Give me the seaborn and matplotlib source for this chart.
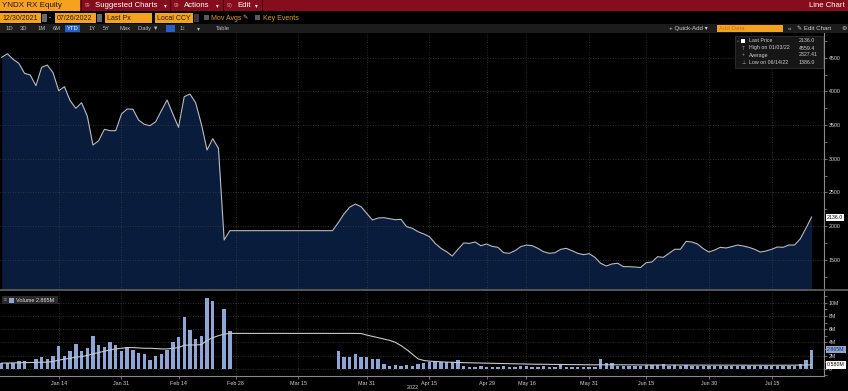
import numpy as np
import pandas as pd
import seaborn as sns
import matplotlib.pyplot as plt
from matplotlib.patches import Rectangle
from matplotlib.lines import Line2D
from matplotlib.ticker import MultipleLocator

# trading days on the chart: weekdays without the exchange holidays
holidays = ['2021-12-31', '2022-05-02', '2022-05-03', '2022-05-09', '2022-05-10', '2022-06-13']
dates = pd.bdate_range('2021-12-30', '2022-07-26').drop(pd.to_datetime(holidays))

# last price, RUB
price = [4506, 4559, 4476, 4417, 4268, 4243, 4085, 4357, 4391, 4277,
         4010, 4070, 3862, 3749, 3832, 3635, 3204, 3268, 3437, 3417,
         3417, 3665, 3739, 3735, 3575, 3512, 3491, 3550, 3714, 3872,
         3665, 3467, 3921, 3961, 3832, 3516, 3130, 3298, 3155, 1795,
         1933,
         1933, 1933, 1933, 1933, 1933, 1933, 1933, 1933, 1933,
         1933, 1933, 1933, 1933, 1933, 1933, 1933, 1933, 1933,
         2051, 2180, 2280, 2329, 2289, 2191, 2092, 2121, 2126, 2111, 2096, 2101,
         1992, 1968, 1918, 1884, 1844, 1745, 1671, 1621, 1557, 1657,
         1750, 1745, 1765, 1710, 1735, 1700, 1686, 1606, 1597, 1636,
         1696, 1720, 1710, 1671, 1621, 1597, 1606, 1656, 1671, 1636,
         1597, 1577, 1592, 1538, 1449, 1409, 1439, 1449, 1399, 1399,
         1394, 1386, 1458, 1468, 1547, 1537, 1597, 1657, 1657, 1775,
         1765, 1735, 1666, 1616, 1646, 1686, 1676, 1696, 1720, 1705,
         1686, 1657, 1616, 1631, 1657, 1691, 1686, 1720, 1720, 1810,
         1968, 2136]

nan = np.nan
# volume, millions of shares
volume = [0.81, 0.9, 0.9, 1.1, 1.2, nan, 1.46, 1.72, 1.5, 2.0,
          3.38, 1.92, 2.73, 3.69, 2.68, 3.08, 4.9, 3.54, 3.28, 4.04,
          3.54, 2.68, 3.33, 2.78, 2.42, 2.17, 1.26, 1.97, 2.22, 2.88,
          3.99, 4.8, 7.88, 5.9, 4.55, 5.0, 10.76, 10.3, nan, 9.09,
          5.76,
          nan, nan, nan, nan, nan, nan, nan, nan, nan,
          nan, nan, nan, nan, nan, nan, nan, nan, nan,
          2.68, 1.82, 1.77, 2.17, 1.82, 1.72, 1.41, 1.41, 0.66, 0.45, 0.5, 0.35, 0.5,
          0.4, 0.7, 0.9, 1.0, 1.2, 0.96, 1.0, 0.96, 1.26,
          0.4, 0.3, 0.3, 0.35, 0.3, 0.3, 0.3, 0.35, 0.3, 0.25,
          0.4, 0.4, 0.3, 0.3, 0.35, 0.3, 0.3, 0.5, 0.3, 0.3,
          0.25, 0.25, 0.3, 0.3, 1.4, 0.9, 0.8, 0.45, 0.4, 0.4,
          0.4, 0.45, 0.5, 0.5, 0.55, 0.65, 0.4, 0.5, 0.35, 0.6,
          0.45, 0.4, 0.45, 0.4, 0.4, 0.35, 0.4, 0.4, 0.4, 0.4,
          0.35, 0.4, 0.4, 0.4, 0.35, 0.4, 0.45, 0.45, 0.4, 0.7,
          1.3, 2.865]

# volume moving average, millions
vol_ma = [0.85, 0.86, 0.88, 0.9, 0.92, 0.93, 0.95, 0.97, 1.0, 1.1,
          1.3, 1.45, 1.6, 1.75, 1.85, 2.0, 2.25, 2.45, 2.65, 2.85,
          3.0, 3.1, 3.2, 3.2, 3.15, 3.1, 3.1, 3.05, 3.0, 3.0,
          3.1, 3.2, 3.55, 3.6, 3.6, 3.65, 4.3, 4.7, 5.0, 5.25,
          5.35,
          5.35, 5.35, 5.35, 5.35, 5.35, 5.35, 5.35, 5.35, 5.35, 5.35, 5.35,
          5.35, 5.35, 5.35, 5.35, 5.35, 5.35, 5.35, 5.35, 5.35, 5.35, 5.35,
          5.33, 5.1, 4.9, 4.7, 4.5, 4.3, 4.0, 3.5, 2.9, 2.2,
          1.5, 1.25, 1.15, 1.1, 1.05, 1.0, 0.97, 0.95, 0.92, 0.9,
          0.88, 0.86, 0.84, 0.82, 0.8, 0.78, 0.76, 0.74, 0.72, 0.7,
          0.69, 0.68, 0.67, 0.66, 0.65, 0.64, 0.63, 0.62, 0.61, 0.6,
          0.6, 0.6, 0.6, 0.6, 0.6, 0.59, 0.59, 0.59, 0.58, 0.58,
          0.57, 0.57, 0.57, 0.56, 0.56, 0.56, 0.56, 0.55, 0.55, 0.55,
          0.55, 0.55, 0.54, 0.54, 0.54, 0.54, 0.54, 0.54, 0.53, 0.53,
          0.53, 0.53, 0.53, 0.53, 0.53, 0.53, 0.54, 0.55, 0.56, 0.58]

tick_dates = ['2022-01-14', '2022-01-31', '2022-02-14', '2022-02-28', '2022-03-15', '2022-03-31',
              '2022-04-15', '2022-04-29', '2022-05-16', '2022-05-31', '2022-06-15', '2022-06-30', '2022-07-15']
tick_labels = ['Jan 14', 'Jan 31', 'Feb 14', 'Feb 28', 'Mar 15', 'Mar 31',
               'Apr 15', 'Apr 29', 'May 16', 'May 31', 'Jun 15', 'Jun 30', 'Jul 15']

price_ticks = [1500, 2000, 2500, 3000, 3500, 4000, 4500]
vol_ticks = [0, 2, 4, 6, 8, 10]
vol_tick_labels = ['0', '2M', '4M', '6M', '8M', '10M']

df = pd.DataFrame({'pos': np.arange(len(dates)), 'price': price,
                   'volume': volume, 'vol_ma': vol_ma}, index=dates)
tick_pos = [df.index.get_loc(pd.Timestamp(d)) for d in tick_dates]

plt.rcParams['font.family'] = ['Liberation Sans', 'DejaVu Sans']

W, H = 848, 391
fig = plt.figure(figsize=(W / 100, H / 100), dpi=100, facecolor='black')


def fx(x):
    return x / W


def fy(y):
    return 1 - y / H


def rect(x, y, w, h, fc, ec='none', lw=0, z=5):
    fig.patches.append(Rectangle((fx(x), fy(y + h)), w / W, h / H, transform=fig.transFigure,
                                 facecolor=fc, edgecolor=ec, linewidth=lw, zorder=z))


def txt(x, y, s, c='white', size=5.5, ha='left', **kw):
    fig.text(fx(x), fy(y), s, color=c, fontsize=size, ha=ha, va='center', zorder=6, **kw)


# ---- toolbar rows ----
orange = '#f7a21c'
rect(0, 0, W, 11, '#860d1b')
rect(0, 0, 80, 11, orange)
txt(2, 5.8, 'YNDX RX Equity', c='#1a1a1a', size=5.8)
for xs in [81, 170, 223, 262]:
    rect(xs, 0, 1.2, 11, '#3a0208')
txt(85, 5.5, '99', c='#d9a0a6', size=3.5)
txt(95, 5.8, 'Suggested Charts', size=5.6)
txt(164, 5.8, '▾', size=4)
txt(174, 5.5, '99', c='#d9a0a6', size=3.5)
txt(184, 5.8, 'Actions', size=5.6)
txt(216, 5.8, '▾', size=4)
txt(227, 5.5, '9/)', c='#d9a0a6', size=3.5)
txt(237, 5.8, 'Edit', size=5.6)
txt(255, 5.8, '▾', size=4)
txt(845, 5.8, 'Line Chart', size=5.6, ha='right')

for x0, w0, s in [(0, 41, '12/30/2021'), (55, 41, '07/26/2022'), (105, 47, 'Last Px'), (155, 38, 'Local CCY')]:
    rect(x0, 13, w0, 10, orange)
    txt(x0 + 2, 18.3, s, c='#1a1a1a', size=5)
rect(42, 14, 5, 8, '#6a6a6a')
rect(97, 14, 5, 8, '#6a6a6a')
txt(49, 18, '-', c='#cccccc', size=5)
rect(194, 14, 5, 8, '#3a3a3a')
rect(204, 15, 5, 5, '#5a5a5a')
txt(211, 18.3, 'Mov Avgs', c='#e39a2e', size=5)
txt(242, 18.3, '✎', c='#bbbbbb', size=4.5)
rect(255, 15, 5, 5, '#5a5a5a')
txt(263, 18.3, 'Key Events', c='#e39a2e', size=5)

rect(0, 24, W, 9, '#1c1c1c')
for x0, s in [(6, '1D'), (20, '3D'), (38, '1M'), (53, '6M'), (89, '1Y'), (103, '5Y'), (119, 'Max'),
              (138, 'Daily ▼'), (180, '1↕'), (197, '▾')]:
    txt(x0, 28.5, s, c='#bdbdbd', size=4.2)
rect(65, 25, 15, 7, '#2460c8')
txt(72.5, 28.5, 'YTD', c='white', size=4.2, ha='center')
rect(166, 25, 9, 7, '#2460c8')
txt(223, 28.5, 'Table', c='#bdbdbd', size=4.2, ha='center')
txt(669, 28.5, '+ Quick-Add ▾', c='#d0d0d0', size=4.4)
rect(717, 25, 66, 7, orange)
txt(719, 28.5, 'Add Data', c='#c4761a', size=4.4)
txt(788, 28.5, '«', c='#d0d0d0', size=4.4)
txt(797, 28.5, '✎ Edit Chart', c='#d0d0d0', size=4.4)
txt(841, 28.5, '⚙', c='#d0d0d0', size=4.4)

# ---- price panel ----
ymin, ymax = 1052.7, 4866.6
xmin, xmax = -0.3, 144.17
ax = fig.add_axes([0, fy(290), 824 / W, (290 - 33) / H])
ax.set_facecolor('black')
ax.fill_between(df['pos'], df['price'], ymin, color='#0a1c3c', linewidth=0, zorder=1)
sns.lineplot(data=df, x='pos', y='price', ax=ax, color='#b8bcc4', linewidth=0.8, zorder=3)
ax.set_xlim(xmin, xmax)
ax.set_ylim(ymin, ymax)
ax.set_xticks(tick_pos)
ax.tick_params(axis='x', length=0, labelbottom=False)
ax.yaxis.tick_right()
ax.set_yticks(price_ticks)
ax.yaxis.set_minor_locator(MultipleLocator(250))
ax.tick_params(axis='y', which='both', colors='#9a9a9a', labelcolor='#d8d8d8',
               labelsize=3.8, length=2, width=0.5, pad=1.5)
ax.grid(color='#3d3d3d', linestyle=(0, (1, 2)), linewidth=0.6)
ax.set_xlabel('')
ax.set_ylabel('')
for s in ['top', 'left', 'bottom']:
    ax.spines[s].set_visible(False)
ax.spines['right'].set_color('#8a8a8a')
ax.spines['right'].set_linewidth(0.8)

# ---- volume panel ----
axv = fig.add_axes([0, fy(376), 824 / W, (376 - 291) / H])
axv.set_facecolor('black')
sns.barplot(data=df.dropna(subset=['volume']), x='pos', y='volume', native_scale=True,
            width=0.6, color='#8ca6d8', saturation=1, errorbar=None, ax=axv, zorder=2)
sns.lineplot(data=df, x='pos', y='vol_ma', ax=axv, color='#c8c8c8', linewidth=0.8, zorder=3)
axv.set_xlim(xmin, xmax)
axv.set_ylim(-1.1, 11.77)
axv.set_xticks(tick_pos)
axv.set_xticklabels(tick_labels)
axv.tick_params(axis='x', colors='#9a9a9a', labelcolor='#d0d0d0', labelsize=3.9,
                length=2, width=0.5, pad=1.5)
axv.yaxis.tick_right()
axv.set_yticks(vol_ticks)
axv.set_yticklabels(vol_tick_labels)
axv.yaxis.set_minor_locator(MultipleLocator(1))
axv.tick_params(axis='y', which='both', colors='#9a9a9a', labelcolor='#d8d8d8',
                labelsize=3.8, length=2, width=0.5, pad=1.5)
axv.grid(color='#3d3d3d', linestyle=(0, (1, 2)), linewidth=0.6)
axv.set_xlabel('')
axv.set_ylabel('')
for s in ['top', 'left']:
    axv.spines[s].set_visible(False)
for s in ['right', 'bottom']:
    axv.spines[s].set_color('#8a8a8a')
    axv.spines[s].set_linewidth(0.8)

fig.add_artist(Line2D([0, 1], [fy(290), fy(290)], color='#5c5c5c', linewidth=1.3,
                      transform=fig.transFigure))
txt(407, 387.5, '2022', c='#d0d0d0', size=3.9)

# value flags on the right axis
txt(827, 217.5, '2136.0', c='black', size=3.8,
    bbox=dict(boxstyle='square,pad=0.2', fc='white', ec='none'))
txt(827, 349.5, '2.865M', c='#1a2a48', size=3.8,
    bbox=dict(boxstyle='square,pad=0.2', fc='#8ca6d8', ec='none'))
txt(827, 365, '0.580M', c='black', size=3.8,
    bbox=dict(boxstyle='square,pad=0.2', fc='white', ec='none'))

# price legend box
rect(735, 36, 88, 32, '#161616', ec='#3a3a3a', lw=0.5, z=5)
rect(741, 39, 4, 4, 'white', z=6)
txt(737, 41, '▫', c='#9a9a9a', size=3.5)
for yy, icon, lab, val in [(41, '', 'Last Price', '2136.0'), (48, 'T', 'High on 01/03/22', '4559.4'),
                           (55, '+', 'Average', '2327.41'), (62.5, '⊥', 'Low on 06/14/22', '1386.0')]:
    if icon:
        txt(742, yy, icon, c='#9a9a9a', size=3.5)
    txt(749, yy, lab, c='#d0d0d0', size=3.8)
    txt(799, yy, val, c='#d0d0d0', size=3.8)

# volume legend
rect(2, 296, 56, 8, '#2a2a2a', z=5)
txt(3.5, 300, '≡', c='#9a9a9a', size=3.5)
rect(9, 297.5, 5, 5, '#8ca6d8', z=6)
txt(16, 300, 'Volume 2.865M', c='#e0e0e0', size=4)

fig.savefig('out.png', dpi=100, facecolor='black')
